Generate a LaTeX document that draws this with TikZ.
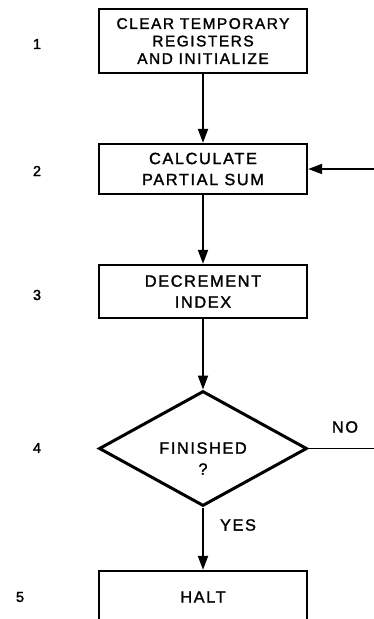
\documentclass[tikz,border=0pt]{standalone}
\usepackage{fontspec}
\setmainfont{Liberation Sans}
\newfontfamily\lettering[LetterSpace=10,FakeBold=1.6]{Liberation Sans}
\newfontfamily\numfont[FakeBold=1.8]{Liberation Sans}
\usetikzlibrary{shapes.geometric,arrows.meta}
\begin{document}
\begin{tikzpicture}[x=1pt,y=-1pt,
  stepbox/.style={draw, line width=2.3pt, minimum width=208pt, inner sep=0pt, align=center,
    font=\lettering\fontsize{16.3}{21}\selectfont},
  decision/.style={diamond, draw, line width=3pt, minimum width=208pt, minimum height=115pt, inner sep=0pt},
  lbl/.style={font=\lettering\fontsize{16.3}{21}\selectfont, inner sep=0pt, align=center},
  num/.style={font=\numfont\fontsize{14.5}{15}\selectfont, inner sep=0pt},
  conn/.style={line width=1.9pt},
  arr/.style={conn, -{Triangle[length=14pt, width=10pt]}}]
\useasboundingbox (0,0) rectangle (374,619);
\clip (0,0) rectangle (374,619);

\node[stepbox, minimum height=64pt, font=\lettering\fontsize{15.4}{17.5}\selectfont] (b1) at (203,41) {CLEAR TEMPORARY\\REGISTERS\\AND INITIALIZE};
\node[stepbox, minimum height=50pt] (b2) at (203,169) {CALCULATE\\PARTIAL SUM};
\node[stepbox, minimum height=53pt] (b3) at (203,291.5) {DECREMENT\\INDEX};
\node[decision] (d) at (203,448.5) {};
\node[lbl] (dt) at (203,458.5) {FINISHED\\?};
\node[stepbox, minimum height=52pt] (h) at (203,597) {HALT};

\node[num] (n1) at (37,44) {1};
\node[num] (n2) at (37,171) {2};
\node[num] (n3) at (37,295) {3};
\node[num] (n4) at (37,448) {4};
\node[num] (n5) at (20,597) {5};

\node[lbl] (yes) at (238,525) {YES};
\node[lbl] (no) at (345,427) {NO};

\coordinate (noend) at (380,448.5);
\coordinate (fbin) at (380,169);

\draw[arr] (b1) -- (b2);
\draw[arr] (b2) -- (b3);
\draw[arr] (b3) -- (d);
\draw[arr] (d) -- (h);
\draw[conn] (d.east) -- (noend);
\draw[arr] (fbin) -- (b2.east);
\end{tikzpicture}
\end{document}
